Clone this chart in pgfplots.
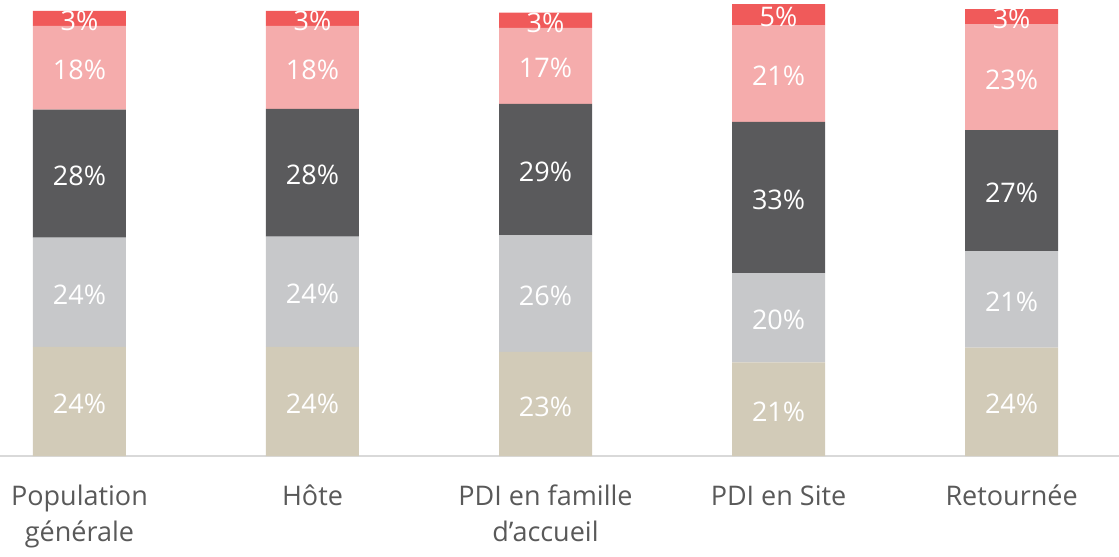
\documentclass[border=0pt]{standalone}
\usepackage{pgfplots}
\usepackage{pgfplotstable}
\pgfplotsset{compat=1.18}
\usepackage{fontspec}
\setmainfont{Open Sans}
\definecolor{cbeige}{HTML}{D2CBB8}
\definecolor{clgray}{HTML}{C7C8CA}
\definecolor{cdark}{HTML}{5A5A5C}
\definecolor{cpink}{HTML}{F5ACAC}
\definecolor{cred}{HTML}{F05A5A}
\definecolor{axisgray}{HTML}{D9D9D9}
\definecolor{tickgray}{HTML}{595959}
\pgfplotstableread{
x a b c d e
0 24.0 24.0 28.1 18.4 3.3
1 24.0 24.2 28.1 18.2 3.3
2 22.9 25.6 28.9 16.7 3.3
3 20.6 19.6 33.2 21.3 4.6
4 23.8 21.2 26.6 23.3 3.3
}\datatable
\pgfplotsset{
  seg/.style={
    fill=#1, draw=none,
    visualization depends on={rawy \as \segval},
    nodes near coords={\pgfmathprintnumber[fixed,precision=0,assume math mode=true]{\segval}\%},
    every node near coord/.append style={anchor=center, text=white,
      font=\fontsize{27bp}{30bp}\selectfont, yshift=-2.5bp},
  },
}
\begin{document}
\begin{tikzpicture}
\begin{axis}[
  width=1119bp, height=456bp, scale only axis,
  xmin=-0.341, xmax=4.461, ymin=0, ymax=100.2,
  enlargelimits=false,
  ybar stacked, bar width=93bp,
  axis x line=bottom, axis y line=none,
  axis line style={-, draw=axisgray, line width=1.5bp},
  xtick={0,1,2,3,4},
  xticklabels={{Population\\générale}, Hôte, {PDI en famille\\d’accueil}, PDI en Site, Retournée},
  xticklabel style={font=\fontsize{27bp}{35.5bp}\selectfont, text=tickgray, align=center, anchor=north, inner sep=0pt, yshift=-29bp},
  major tick length=0pt,
  ytick=\empty,
  clip=false,
]
\addplot[seg=cbeige] table[x=x, y=a]{\datatable};
\addplot[seg=clgray] table[x=x, y=b]{\datatable};
\addplot[seg=cdark] table[x=x, y=c]{\datatable};
\addplot[seg=cpink] table[x=x, y=d]{\datatable};
\addplot[seg=cred] table[x=x, y=e]{\datatable};
\end{axis}
\pgfresetboundingbox
\path (current axis.north west) rectangle ([yshift=-101bp]current axis.south east);
\end{tikzpicture}
\end{document}
